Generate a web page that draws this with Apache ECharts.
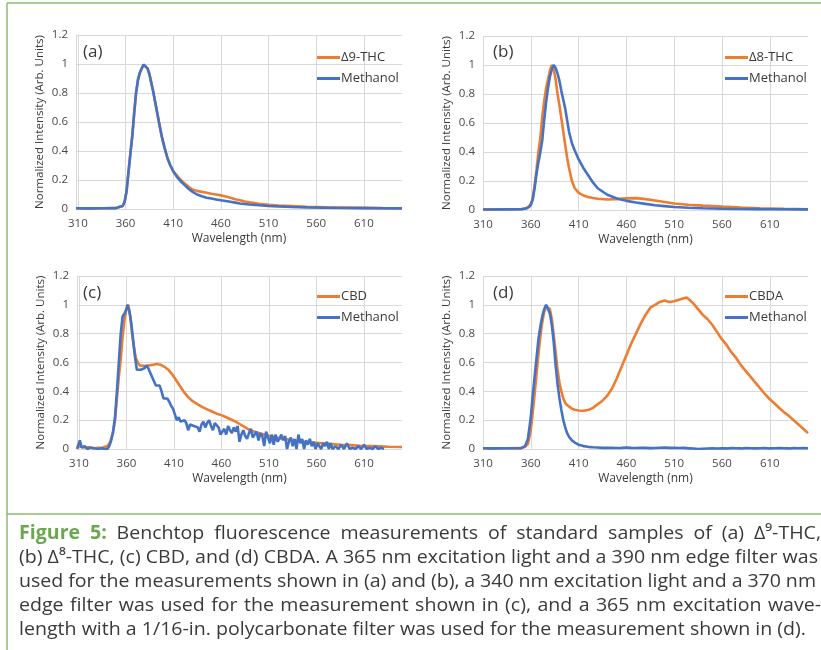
<!DOCTYPE html>
<html><head><meta charset="utf-8">
<script src="https://cdn.jsdelivr.net/npm/echarts@6/dist/echarts.min.js"></script>
<style>html,body{margin:0;padding:0;background:#fff}#c{width:821px;height:650px}</style>
</head><body><div id="c"></div>
<script>
// ---------- data ----------
const xTickValues = [310, 360, 410, 460, 510, 560, 610];

// Panel (a)
const wlA = [308,320,335,350,354,357,359,361,363,365,367,369,371,373,375,377,379,380,381,383,385,387,389,391,393,395,398,401,404,407,410,414,418,422,426,430,435,440,445,450,455,460,465,470,475,480,485,490,500,510,520,535,550,570,590,610,630,650];
const thc9 = [0.005,0.004,0.005,0.006,0.015,0.02,0.05,0.12,0.25,0.38,0.5,0.66,0.8,0.89,0.94,0.97,0.995,1.0,0.99,0.97,0.93,0.87,0.81,0.74,0.67,0.6,0.5,0.42,0.35,0.3,0.26,0.23,0.2,0.175,0.155,0.135,0.125,0.118,0.112,0.105,0.1,0.094,0.086,0.078,0.068,0.06,0.052,0.046,0.036,0.029,0.024,0.02,0.016,0.012,0.01,0.008,0.006,0.005];
const methA = [0.005,0.004,0.005,0.006,0.015,0.02,0.05,0.12,0.25,0.38,0.5,0.66,0.8,0.89,0.94,0.97,0.995,1.0,0.99,0.97,0.93,0.87,0.81,0.74,0.67,0.6,0.5,0.42,0.35,0.3,0.26,0.22,0.19,0.165,0.14,0.12,0.1,0.088,0.078,0.072,0.066,0.06,0.055,0.05,0.044,0.038,0.034,0.031,0.026,0.021,0.018,0.014,0.011,0.009,0.007,0.006,0.005,0.004];

// Panel (b)
const wlB = [310,320,335,350,355,358,360,362,364,366,368,370,372,374,376,378,380,382,384,386,388,390,392,394,396,398,400,403,406,410,415,420,425,430,440,450,460,470,480,490,500,510,525,540,560,580,600,625,650];
const thc8 = [0.004,0.004,0.005,0.006,0.012,0.025,0.04,0.08,0.17,0.28,0.4,0.5,0.64,0.75,0.84,0.9,0.96,1.0,0.97,0.9,0.8,0.72,0.63,0.54,0.45,0.36,0.29,0.2,0.15,0.12,0.1,0.09,0.083,0.078,0.072,0.075,0.08,0.082,0.075,0.065,0.055,0.045,0.036,0.03,0.023,0.017,0.012,0.008,0.005];
const methB = [0.003,0.003,0.004,0.005,0.01,0.02,0.035,0.07,0.15,0.25,0.33,0.4,0.48,0.62,0.74,0.84,0.92,0.97,1.0,0.98,0.94,0.89,0.82,0.76,0.7,0.62,0.54,0.46,0.41,0.35,0.29,0.24,0.19,0.15,0.105,0.08,0.063,0.052,0.042,0.033,0.027,0.021,0.016,0.012,0.009,0.007,0.006,0.005,0.004];

// Panel (c)
const wlC = [308,312,316,320,325,330,335,340,343,346,348,350,352,354,356,358,360,362,364,366,368,370,372,374,376,380,384,388,392,396,400,404,408,412,416,420,425,430,435,440,445,450,455,460,465,470,475,480,485,490,495,500,505,510,518,526,536,546,556,566,576,586,596,606,616,626,636,650];
const cbd = [0.02,0.015,0.01,0.012,0.005,0.008,0.01,0.02,0.05,0.12,0.2,0.35,0.5,0.62,0.78,0.9,0.97,1.0,0.92,0.8,0.7,0.63,0.6,0.58,0.57,0.575,0.58,0.585,0.59,0.585,0.57,0.55,0.52,0.48,0.44,0.4,0.36,0.33,0.31,0.29,0.275,0.26,0.245,0.235,0.22,0.205,0.19,0.17,0.15,0.13,0.12,0.11,0.1,0.09,0.08,0.07,0.06,0.05,0.045,0.04,0.035,0.03,0.027,0.022,0.02,0.018,0.016,0.014];
const wlCm = [308,311,313,316,319,322,326,330,334,337,340,342,344,346,348,350,352,354,356,358,360,361,363,365,367,369,371,373,375,377,379,381,383,385,387,389,391,393,395,397,399,401,403,405,407,409,411,413,415,417,419,421,423,425,427,429,431,433,435,437,439,441,443,445,447,449,451,453,455,457,459,461,463,465,467,469,471,473,475,477,479,481,483,485,487,489,491,493,495,497,499,501,503,505,507,509,511,513,515,517,519,521,523,525,527,529,531,533,535,537,539,541,543,545,547,549,551,553,555,557,559,561,563,565,567,569,571,573,575,577,580,583,586,589,592,595,598,601,604,607,610,613,616,619,622,625,628,631];
const methC = [0.0,0.06,0.01,0.02,0.0,0.01,0.005,0.0,0.005,0.0,0.0,0.02,0.06,0.12,0.22,0.4,0.6,0.8,0.92,0.94,0.97,1.0,0.96,0.88,0.76,0.64,0.55,0.54,0.55,0.55,0.56,0.58,0.56,0.55,0.5,0.47,0.44,0.43,0.44,0.4,0.35,0.36,0.35,0.33,0.3,0.28,0.24,0.2,0.22,0.19,0.2,0.2,0.18,0.13,0.17,0.18,0.16,0.17,0.15,0.12,0.17,0.19,0.15,0.18,0.2,0.16,0.13,0.18,0.19,0.15,0.1,0.12,0.14,0.1,0.16,0.13,0.11,0.15,0.12,0.16,0.05,0.1,0.13,0.09,0.07,0.11,0.14,0.08,0.1,0.12,0.06,0.11,0.09,0.02,0.12,0.13,0.04,0.1,0.03,0.1,0.05,0.07,0.1,0.06,0.09,0.0,0.05,0.08,0.02,0.07,0.0,0.1,0.04,0.07,0.0,0.06,0.03,0.07,0.02,0.05,0.0,0.04,0.05,0.0,0.04,0.02,0.05,0.0,0.04,0.0,0.02,0.0,0.03,0.0,0.04,0.0,0.01,0.0,0.02,0.0,0.03,0.0,0.01,0.0,0.02,0.0,0.01,0.0];

// Panel (d)
const wlD = [310,320,335,350,354,357,360,362,364,366,368,370,372,374,376,378,380,382,384,386,388,390,392,394,396,398,400,403,406,410,415,420,425,430,435,440,445,450,455,460,465,470,475,480,485,490,495,500,505,510,515,520,523,526,530,535,540,545,550,555,560,565,570,575,580,585,590,595,600,605,610,615,620,625,630,635,640,645,650];
const cbda = [0.005,0.005,0.005,0.006,0.015,0.035,0.13,0.25,0.38,0.52,0.66,0.78,0.88,0.95,0.99,1.0,0.97,0.9,0.79,0.67,0.55,0.46,0.4,0.35,0.32,0.305,0.295,0.28,0.272,0.267,0.265,0.27,0.285,0.31,0.335,0.37,0.42,0.49,0.57,0.65,0.73,0.8,0.87,0.93,0.98,1.0,1.02,1.03,1.02,1.025,1.035,1.045,1.05,1.035,1.01,0.97,0.93,0.9,0.86,0.81,0.76,0.72,0.67,0.63,0.58,0.54,0.5,0.46,0.42,0.38,0.345,0.315,0.285,0.255,0.23,0.2,0.17,0.14,0.11];
const methD = [0.005,0.004,0.005,0.006,0.02,0.07,0.22,0.37,0.5,0.63,0.76,0.85,0.92,0.97,1.0,0.99,0.94,0.86,0.74,0.58,0.45,0.35,0.27,0.2,0.15,0.11,0.085,0.06,0.045,0.03,0.02,0.015,0.012,0.01,0.008,0.008,0.009,0.007,0.008,0.01,0.008,0.007,0.008,0.008,0.006,0.007,0.009,0.01,0.008,0.009,0.007,0.008,0.006,0.004,0.003,0.0,0.002,0.003,0.004,0.003,0.005,0.004,0.006,0.005,0.004,0.006,0.005,0.004,0.005,0.006,0.004,0.005,0.006,0.005,0.004,0.006,0.005,0.006,0.005];

const panelLabels = ['(a)', '(b)', '(c)', '(d)'];
const seriesNames = [['Δ9-THC', 'Methanol'], ['Δ8-THC', 'Methanol'], ['CBD', 'Methanol'], ['CBDA', 'Methanol']];
const xAxisName = 'Wavelength (nm)';
const yAxisName = 'Normalized Intensity (Arb. Units)';

const captionLines = [
  'Figure 5: Benchtop fluorescence measurements of standard samples of (a) Δ⁹-THC,',
  '(b) Δ⁸-THC, (c) CBD, and (d) CBDA. A 365 nm excitation light and a 390 nm edge filter was',
  'used for the measurements shown in (a) and (b), a 340 nm excitation light and a 370 nm',
  'edge filter was used for the measurement shown in (c), and a 365 nm excitation wave-',
  'length with a 1/16-in. polycarbonate filter was used for the measurement shown in (d).'
];

// ---------- chart ----------
const ORANGE = '#ED7D31', BLUE = '#4472C4';
const GRID_C = '#d9d9d9', LABEL_C = '#4a4a4a', TEXT_C = '#3a3a3a';
const FONT = '"Open Sans", "Liberation Sans", sans-serif';

const zip = (xs, ys) => xs.map((x, i) => [x, ys[i]]);
const panelData = [
  [zip(wlA, thc9), zip(wlA, methA)],
  [zip(wlB, thc8), zip(wlB, methB)],
  [zip(wlC, cbd), zip(wlCm, methC)],
  [zip(wlD, cbda), zip(wlD, methD)]
];

const grids = [
  {left: 76, top: 35, width: 326, height: 174},
  {left: 483, top: 36, width: 325, height: 174},
  {left: 77, top: 276, width: 325, height: 173},
  {left: 483, top: 276, width: 325, height: 173}
];
const xMins = [308, 310, 308, 310];

const xAxes = grids.map((g, i) => ({
  type: 'value', gridIndex: i, min: xMins[i], max: 650,
  name: xAxisName, nameLocation: 'middle', nameGap: 24,
  nameTextStyle: {fontSize: 12, color: TEXT_C, fontFamily: FONT},
  axisLine: {show: false},
  axisTick: {show: false, customValues: xTickValues},
  axisLabel: {customValues: xTickValues, color: LABEL_C, fontSize: 11.5, margin: 9, fontFamily: FONT},
  splitLine: {show: true, lineStyle: {color: GRID_C, width: 1}}
}));
const yAxes = grids.map((g, i) => ({
  type: 'value', gridIndex: i, min: 0, max: 1.2, interval: 0.2,
  name: yAxisName, nameLocation: 'middle', nameGap: 30, nameRotate: 90,
  nameTextStyle: {fontSize: 11.5, color: TEXT_C, fontFamily: FONT},
  axisLine: {show: true, lineStyle: {color: GRID_C, width: 1}},
  axisTick: {show: false},
  axisLabel: {color: LABEL_C, fontSize: 11.5, margin: 8, fontFamily: FONT},
  splitLine: {show: true, lineStyle: {color: GRID_C, width: 1}}
}));

const series = [];
panelData.forEach((pair, i) => {
  [ORANGE, BLUE].forEach((col, k) => {
    series.push({
      type: 'line', name: seriesNames[i][k], xAxisIndex: i, yAxisIndex: i,
      data: pair[k], showSymbol: false, symbol: 'none',
      lineStyle: {color: col, width: 2.6}, itemStyle: {color: col},
      z: 2 + k, animation: false
    });
  });
});

const legendPos = [[317, 51], [725, 51], [317, 290], [725, 290]];
const legends = legendPos.map((p, i) => ({
  left: p[0], top: p[1], orient: 'vertical', padding: 0, itemGap: 8,
  itemWidth: 23, itemHeight: 3, icon: 'rect',
  data: seriesNames[i].map(n => ({name: n})),
  textStyle: {fontSize: 13, color: TEXT_C, fontFamily: FONT, padding: [0, 0, 0, -4]},
  selectedMode: false
}));

// graphics
const graphics = [];
const GREEN = '#8dbb70';
graphics.push({type: 'line', shape: {x1: 7, y1: 3, x2: 821, y2: 3}, style: {stroke: GREEN, lineWidth: 1.5}});
graphics.push({type: 'line', shape: {x1: 7, y1: 3, x2: 7, y2: 650}, style: {stroke: GREEN, lineWidth: 1.5}});
graphics.push({type: 'line', shape: {x1: 7, y1: 514, x2: 821, y2: 514}, style: {stroke: GREEN, lineWidth: 1.5}});

const labelPos = [[83, 52], [493, 52], [83, 293], [493, 293]];
panelLabels.forEach((t, i) => {
  graphics.push({type: 'text', x: labelPos[i][0], y: labelPos[i][1],
    style: {text: t, fontSize: 17, fill: TEXT_C, fontFamily: FONT, verticalAlign: 'middle', align: 'left'}});
});

// caption with justified words
const CAP_FS = 19;
const CAP_FONT = '"Open Sans", sans-serif';
const ctx = document.createElement('canvas').getContext('2d');
function mw(t, bold) { ctx.font = (bold ? 'bold ' : '') + CAP_FS + 'px ' + CAP_FONT; return ctx.measureText(t).width; }
const capLeft = 19;
const capTargets = [821, 818, 816, 821, null];
const capBaselines = [540, 564, 588, 612, 636];
const lineWords = captionLines.map(l => l.split(' '));
const isBold = (li, wi) => li === 0 && wi < 2;
const spaceW = mw(' ', false);
const nat = (li) => lineWords[li].reduce((s, w, wi) => s + mw(w, isBold(li, wi)), 0) + spaceW * (lineWords[li].length - 1);
const sc = (capTargets[1] - capLeft) / nat(1);
lineWords.forEach((words, li) => {
  const widths = words.map((w, wi) => mw(w, isBold(li, wi)) * sc);
  const total = widths.reduce((a, b) => a + b, 0);
  const gap = capTargets[li] ? (capTargets[li] - capLeft - total) / (words.length - 1) : spaceW * sc;
  let x = capLeft;
  words.forEach((w, wi) => {
    const b = isBold(li, wi);
    graphics.push({type: 'text', x: x, y: capBaselines[li] - 6, scaleX: sc,
      style: {text: w, fontSize: CAP_FS, fontWeight: b ? 'bold' : 'normal', fill: b ? '#6aa84f' : '#3a3a3a',
        fontFamily: CAP_FONT, verticalAlign: 'middle', align: 'left'}});
    x += widths[wi] + gap;
  });
});

const chart = echarts.init(document.getElementById('c'), null, {renderer: 'canvas'});
chart.setOption({
  backgroundColor: '#ffffff',
  animation: false,
  grid: grids,
  xAxis: xAxes,
  yAxis: yAxes,
  legend: legends,
  series: series,
  graphic: graphics
});
</script></body></html>
